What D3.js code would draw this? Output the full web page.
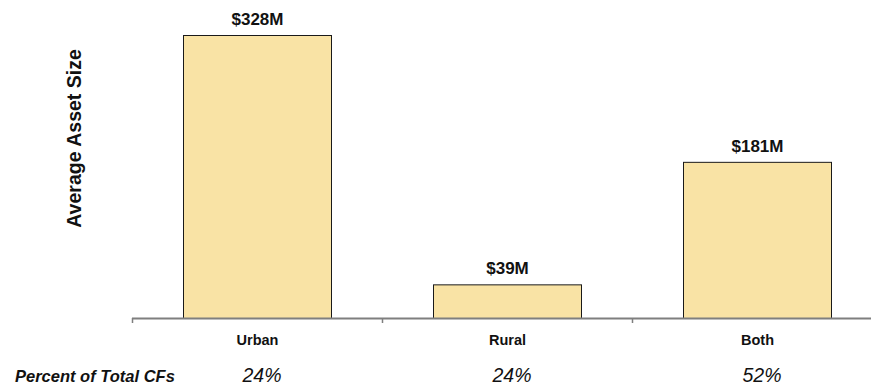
<!DOCTYPE html>
<html>
<head>
<meta charset="utf-8">
<script src="https://cdn.jsdelivr.net/npm/d3@7"></script>
<style>
  html, body { margin: 0; padding: 0; background: #fff; }
  svg { display: block; font-family: "Liberation Sans", Arial, sans-serif; }
</style>
</head>
<body>
<svg id="chart" width="871" height="386"></svg>
<script>
// Average asset size by market served
const categories = ["Urban", "Rural", "Both"];
const assetSize = [328, 39, 181];            // $ millions
const pctOfTotal = ["24%", "24%", "52%"];    // share of total CFs

const svg = d3.select("#chart");
const margin = { left: 132, right: -11, top: 35, bottom: 68 };
const width = 871 - margin.left - margin.right;
const baseY = 318;

const x = d3.scaleBand()
  .domain(categories)
  .range([margin.left, margin.left + width])
  .paddingInner(0.408)
  .paddingOuter(0.204);

const y = d3.scaleLinear()
  .domain([0, 328])
  .range([baseY, margin.top]);

// Bars
svg.append("g").selectAll("rect")
  .data(categories)
  .join("rect")
  .attr("x", d => x(d) + 0.5)
  .attr("y", (d, i) => y(assetSize[i]) + 0.5)
  .attr("width", x.bandwidth())
  .attr("height", (d, i) => baseY - y(assetSize[i]))
  .attr("fill", "#F9E3A5")
  .attr("stroke", "#1a1a1a")
  .attr("stroke-width", 1);

// Category axis: baseline with ticks at band boundaries
const step = x.step();
const boundaries = categories.map(d => x(d) - (step - x.bandwidth()) / 2);
svg.append("line")
  .attr("x1", margin.left).attr("x2", 871)
  .attr("y1", baseY + 0.5).attr("y2", baseY + 0.5)
  .attr("stroke", "#7f7f7f").attr("stroke-width", 2);
svg.append("g").selectAll("line")
  .data(boundaries)
  .join("line")
  .attr("x1", d => Math.round(d) + 0.5).attr("x2", d => Math.round(d) + 0.5)
  .attr("y1", baseY).attr("y2", baseY + 5)
  .attr("stroke", "#7f7f7f").attr("stroke-width", 1.5);

// Value labels
svg.append("g").selectAll("text")
  .data(categories)
  .join("text")
  .attr("x", d => x(d) + x.bandwidth() / 2 + 0.5)
  .attr("y", (d, i) => y(assetSize[i]) - 10)
  .attr("text-anchor", "middle")
  .attr("font-size", 17)
  .attr("font-weight", "bold")
  .attr("fill", "#111")
  .text((d, i) => `$${assetSize[i]}M`);

// Category labels
svg.append("g").selectAll("text")
  .data(categories)
  .join("text")
  .attr("x", d => x(d) + x.bandwidth() / 2 + 0.5)
  .attr("y", 345)
  .attr("text-anchor", "middle")
  .attr("font-size", 14.5)
  .attr("font-weight", "bold")
  .attr("fill", "#111")
  .text(d => d);

// Percent of total row
svg.append("text")
  .attr("x", 15)
  .attr("y", 382)
  .attr("font-size", 16.5)
  .attr("font-weight", "bold")
  .attr("font-style", "italic")
  .attr("fill", "#111")
  .text("Percent of Total CFs");

svg.append("g").selectAll("text")
  .data(categories)
  .join("text")
  .attr("x", d => x(d) + x.bandwidth() / 2 + 5)
  .attr("y", 382)
  .attr("text-anchor", "middle")
  .attr("font-size", 19.5)
  .attr("font-style", "italic")
  .attr("fill", "#111")
  .text((d, i) => pctOfTotal[i]);

// Y axis title
svg.append("text")
  .attr("transform", "translate(81,138.5) rotate(-90)")
  .attr("text-anchor", "middle")
  .attr("font-size", 19.5)
  .attr("font-weight", "bold")
  .attr("fill", "#111")
  .text("Average Asset Size");
</script>
</body>
</html>
